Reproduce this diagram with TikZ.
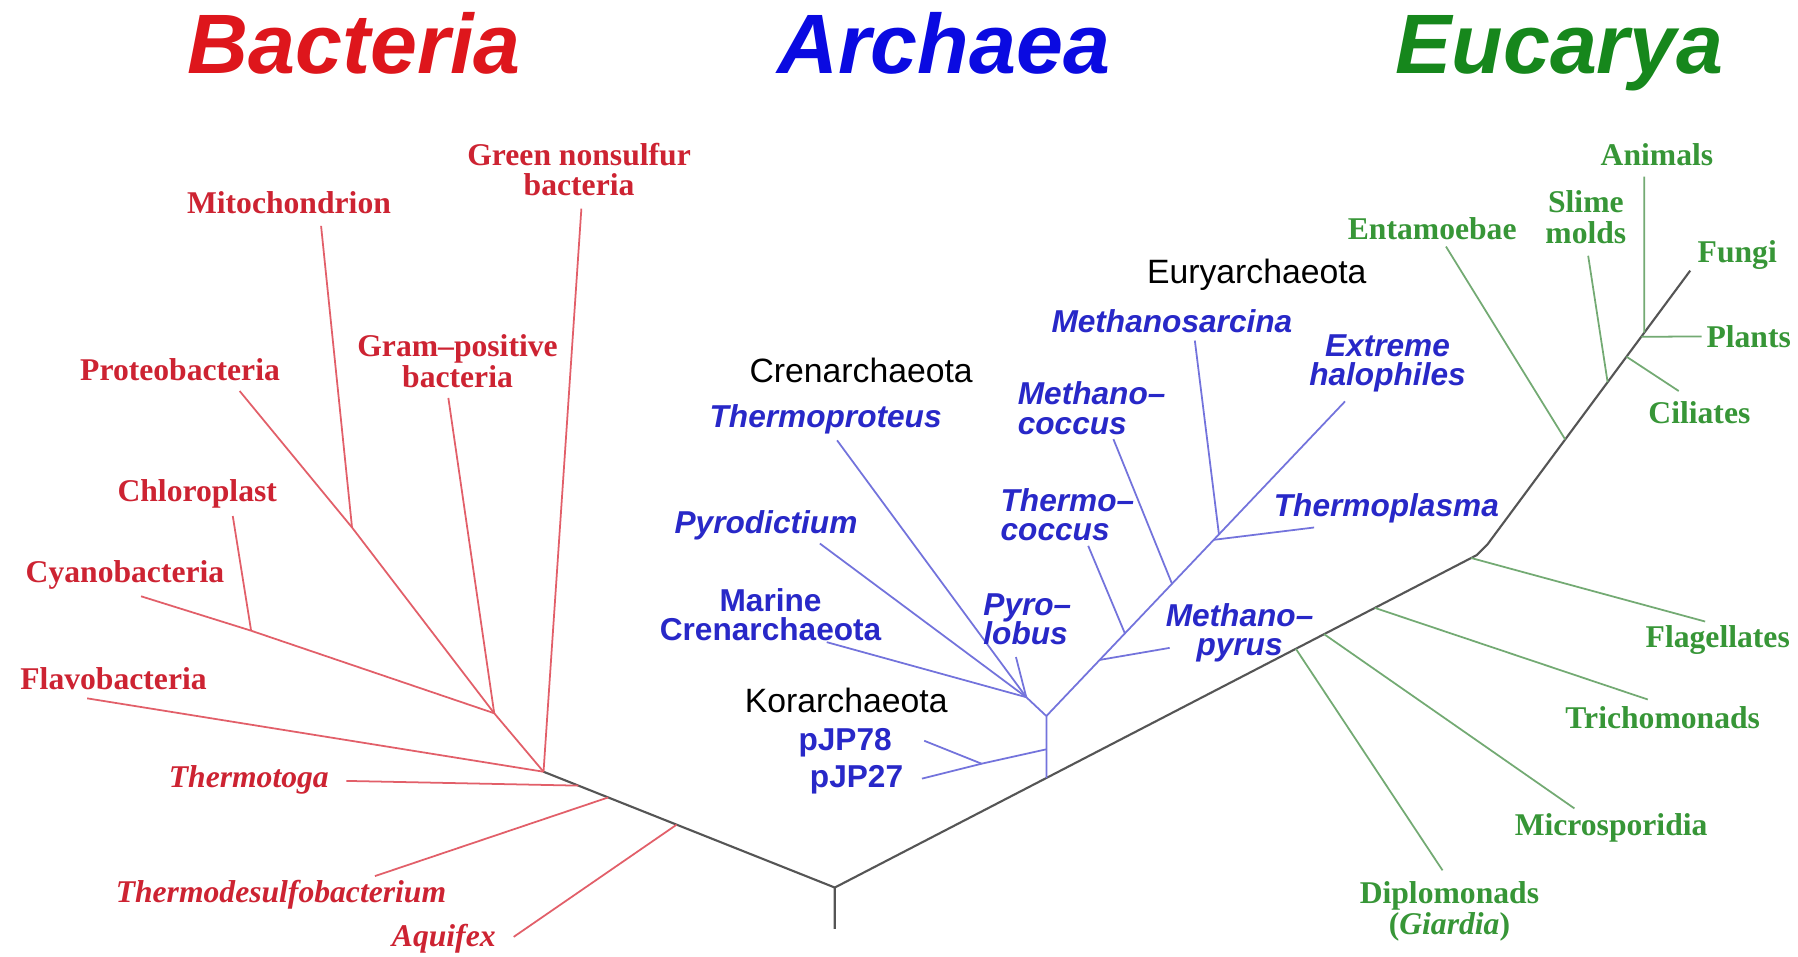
\documentclass[tikz,border=0pt]{standalone}
\usepackage{fontspec}
\setmainfont{Liberation Serif}
\setsansfont{Liberation Sans}
\usetikzlibrary{calc}

\definecolor{titlered}{RGB}{222,22,28}
\definecolor{titleblue}{RGB}{10,10,225}
\definecolor{titlegreen}{RGB}{22,135,28}
\definecolor{bactext}{RGB}{205,35,50}
\definecolor{bacline}{RGB}{226,95,105}
\definecolor{arctext}{RGB}{40,40,200}
\definecolor{arcline}{RGB}{115,115,220}
\definecolor{euctext}{RGB}{55,150,55}
\definecolor{eucline}{RGB}{115,170,115}
\definecolor{trunkgray}{RGB}{85,85,85}

\begin{document}
\begin{tikzpicture}[x=0.11467mm,y=-0.11467mm,
    kingdom/.style={font=\sffamily\bfseries\itshape\fontsize{24}{26}\selectfont,inner sep=0pt,anchor=base},
    baclabel/.style={text=bactext,font=\rmfamily\bfseries\fontsize{9}{8.6}\selectfont,align=center,inner sep=0pt},
    bacitalic/.style={baclabel,font=\rmfamily\bfseries\itshape\fontsize{9}{8.6}\selectfont},
    arclabel/.style={text=arctext,font=\sffamily\bfseries\itshape\fontsize{9}{8.4}\selectfont,inner sep=0pt},
    arcupright/.style={arclabel,font=\sffamily\bfseries\fontsize{9}{8.4}\selectfont,align=center},
    phylum/.style={font=\sffamily\fontsize{9.6}{10}\selectfont,inner sep=0pt},
    euclabel/.style={text=euctext,font=\rmfamily\bfseries\fontsize{9}{8.8}\selectfont,align=center,inner sep=0pt},
    trunk/.style={draw=trunkgray,line width=0.6pt,line join=round},
    bacbranch/.style={draw=bacline,line width=0.5pt},
    arcbranch/.style={draw=arcline,line width=0.5pt},
    eucbranch/.style={draw=eucline,line width=0.5pt}]
  \useasboundingbox[fill=white] (0,0) rectangle (1568,834);

  \node[kingdom,text=titlered] (bacteria) at (309,64) {Bacteria};
  \node[kingdom,text=titleblue] (archaea) at (823,64) {Archaea};
  \node[kingdom,text=titlegreen] (eucarya) at (1360,64) {Eucarya};

  % backbone
  \coordinate (root) at (728,774);
  \coordinate (root base) at (728,810);
  \coordinate (bac hub) at (474,673);
  \coordinate (bend) at (1288,484);
  \coordinate (bend top) at (1297,475);
  \coordinate (fungi end) at (1474,236);
  \draw[trunk] (root base) -- (root) -- (bac hub);
  \draw[trunk] (root) -- (bend) -- (bend top) -- (fungi end);

  % Bacteria
  \coordinate (pm) at (307,460);
  \coordinate (cc) at (219,550);
  \coordinate (bj) at (431,622);
  \node[baclabel] (greenns) at (505,148) {Green nonsulfur\\bacteria};
  \coordinate (greenns end) at (507,182);
    \draw[bacbranch] (greenns end) -- (bac hub);
  \node[baclabel] (mito) at (252,177) {Mitochondrion};
  \coordinate (mito end) at (280,197);
    \draw[bacbranch] (mito end) -- (pm);
  \node[baclabel] (proteo) at (157,322) {Proteobacteria};
  \coordinate (proteo end) at (209,341);
    \draw[bacbranch] (proteo end) -- (pm) -- (bj);
  \node[baclabel] (gram) at (399,315) {Gram–positive\\bacteria};
  \coordinate (gram end) at (391,347);
    \draw[bacbranch] (gram end) -- (bj);
  \node[baclabel] (chloro) at (172,431) {Chloroplast};
  \coordinate (chloro end) at (203,450);
    \draw[bacbranch] (chloro end) -- (cc);
  \node[baclabel] (cyano) at (109,501) {Cyanobacteria};
  \coordinate (cyano end) at (123,520);
    \draw[bacbranch] (cyano end) -- (cc) -- (bj) -- (bac hub);
  \node[baclabel] (flavo) at (99,592) {Flavobacteria};
  \coordinate (flavo end) at (76,609);
    \draw[bacbranch] (flavo end) -- (bac hub);
  \node[bacitalic] (thermotoga) at (217,680) {Thermotoga};
  \coordinate (thermotoga end) at (302,681);
  \coordinate (thermotoga base) at ($(bac hub)!0.12!(root)$);
    \draw[bacbranch] (thermotoga end) -- (thermotoga base);
  \node[bacitalic] (thermodesulfo) at (245,780) {Thermodesulfobacterium};
  \coordinate (thermodesulfo end) at (327,764);
  \coordinate (thermodesulfo base) at ($(bac hub)!0.222!(root)$);
    \draw[bacbranch] (thermodesulfo end) -- (thermodesulfo base);
  \node[bacitalic] (aquifex) at (387,819) {Aquifex};
  \coordinate (aquifex end) at (448,817);
  \coordinate (aquifex base) at ($(bac hub)!0.457!(root)$);
    \draw[bacbranch] (aquifex end) -- (aquifex base);

  % Archaea
  \coordinate (arc base) at ($(root)!0.3295!(bend)$);
  \coordinate (arc top) at ($(arc base)+(0,-54)$);
  \coordinate (kor base) at ($(arc base)+(0,-25)$);
  \coordinate (pjp hub) at (856,666);
  \coordinate (cren hub) at (895,608);
  \coordinate (eury hub) at (1063,466);
    \draw[arcbranch] (arc base) -- (arc top) -- (cren hub);
    \draw[arcbranch] (kor base) -- (pjp hub);
  \node[phylum] (kor) at (738,611) {Korarchaeota};
  \node[arcupright] (pjp78) at (737,648) {pJP78};
  \coordinate (pjp78 end) at (806,646);
    \draw[arcbranch] (pjp78 end) -- (pjp hub);
  \node[arcupright] (pjp27) at (747,680) {pJP27};
  \coordinate (pjp27 end) at (804,679);
    \draw[arcbranch] (pjp27 end) -- (pjp hub);
  \node[phylum] (cren) at (751,323) {Crenarchaeota};
  \node[arclabel] (thermoproteus) at (720,366) {Thermoproteus};
  \coordinate (thermoproteus end) at (730,384);
    \draw[arcbranch] (thermoproteus end) -- (cren hub);
  \node[arclabel] (pyrodictium) at (668,458) {Pyrodictium};
  \coordinate (pyrodictium end) at (715,474);
    \draw[arcbranch] (pyrodictium end) -- (cren hub);
  \node[arcupright] (marine) at (672,536) {Marine\\Crenarchaeota};
  \coordinate (marine end) at (721,560);
    \draw[arcbranch] (marine end) -- (cren hub);
  \node[arclabel,align=left,anchor=west] (pyrolobus) at (857,540) {Pyro–\\lobus};
  \coordinate (pyrolobus end) at (886,573);
    \draw[arcbranch] (pyrolobus end) -- (cren hub);
  \node[phylum] (eury) at (1096,240) {Euryarchaeota};
    \draw[arcbranch] (arc top) -- (eury hub);
  \node[arclabel,align=center] (methanopyrus) at (1081,552) {Methano–\\pyrus};
  \coordinate (methanopyrus end) at (1020,565);
    \draw[arcbranch] (methanopyrus end) -- ($(arc top)!0.309!(eury hub)$);
  \node[arclabel,align=left,anchor=west] (thermococcus) at (872,449) {Thermo–\\coccus};
  \coordinate (thermococcus end) at (949,476);
    \draw[arcbranch] (thermococcus end) -- ($(arc top)!0.455!(eury hub)$);
  \node[arclabel,align=left,anchor=west] (methanococcus) at (887,356) {Methano–\\coccus};
  \coordinate (methanococcus end) at (971,383);
    \draw[arcbranch] (methanococcus end) -- ($(arc top)!0.728!(eury hub)$);
  \node[arclabel] (thermoplasma) at (1209,443) {Thermoplasma};
  \coordinate (thermoplasma end) at (1146,460);
    \draw[arcbranch] (thermoplasma end) -- ($(arc top)!0.97!(eury hub)$);
  \node[arclabel] (methanosarcina) at (1022,280) {Methanosarcina};
  \coordinate (methanosarcina end) at (1042,297);
    \draw[arcbranch] (methanosarcina end) -- (eury hub);
  \node[arclabel,align=center] (halophiles) at (1210,317) {Extreme\\halophiles};
  \coordinate (halophiles end) at (1173,350);
    \draw[arcbranch] (halophiles end) -- (eury hub);

  % Eucarya
  \node[euclabel] (diplo) at (1264,795) {Diplomonads\\(\textit{Giardia})};
  \coordinate (diplo end) at (1258,759);
    \draw[eucbranch] (diplo end) -- ($(root)!0.718!(bend)$);
  \node[euclabel] (micro) at (1405,722) {Microsporidia};
  \coordinate (micro end) at (1373,705);
    \draw[eucbranch] (micro end) -- ($(root)!0.762!(bend)$);
  \node[euclabel] (tricho) at (1450,626) {Trichomonads};
  \coordinate (tricho end) at (1437,610);
    \draw[eucbranch] (tricho end) -- ($(root)!0.841!(bend)$);
  \node[euclabel] (flag) at (1498,558) {Flagellates};
  \coordinate (flag end) at (1487,542);
    \draw[eucbranch] (flag end) -- ($(root)!0.991!(bend)$);
  \node[euclabel] (entamoebae) at (1249,199) {Entamoebae};
  \coordinate (entamoebae end) at (1261,215);
    \draw[eucbranch] (entamoebae end) -- ($(bend top)!0.384!(fungi end)$);
  \node[euclabel] (slime) at (1383,189) {Slime\\molds};
  \coordinate (slime end) at (1385,223);
    \draw[eucbranch] (slime end) -- ($(bend top)!0.593!(fungi end)$);
  \node[euclabel] (ciliates) at (1482,360) {Ciliates};
  \coordinate (ciliates end) at (1464,341);
    \draw[eucbranch] (ciliates end) -- ($(bend top)!0.686!(fungi end)$);
  \node[euclabel] (animals) at (1445,135) {Animals};
  \coordinate (animals end) at (1434,154);
    \draw[eucbranch] (animals end) -- ($(bend top)!0.774!(fungi end)$);
  \node[euclabel] (plants) at (1525,294) {Plants};
  \coordinate (plants end) at (1484,293.5);
    \draw[eucbranch] (plants end) -- ($(bend top)!0.759!(fungi end)$);
  \node[euclabel] (fungi) at (1515,222) {Fungi};
\end{tikzpicture}
\end{document}
